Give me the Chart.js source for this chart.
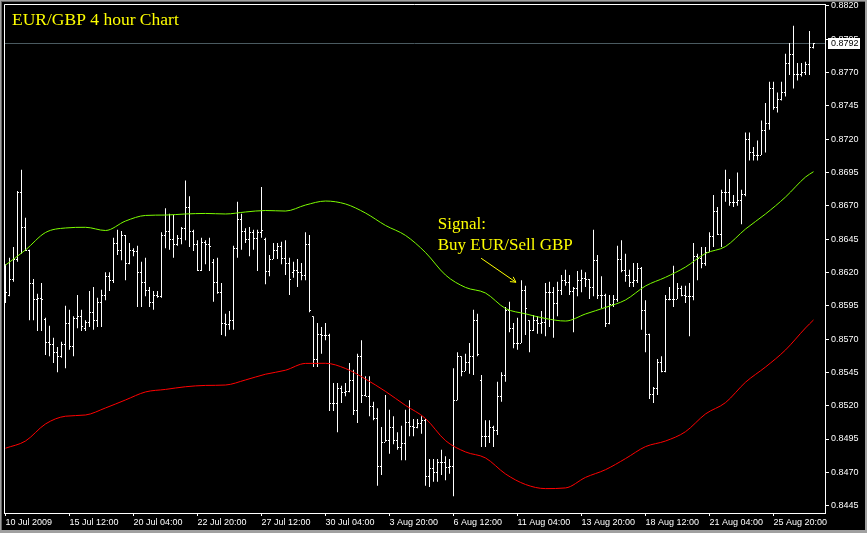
<!DOCTYPE html>
<html>
<head>
<meta charset="utf-8">
<title>EUR/GBP 4 hour Chart</title>
<script src="https://cdn.jsdelivr.net/npm/chart.js@4.4.1/dist/chart.umd.min.js"></script>
<style>
    html, body { margin: 0; padding: 0; background: #000; }
    #graph_eurgbp { display: block; }
</style>
</head>
<body>
<canvas id="graph_eurgbp" width="867" height="533"></canvas>
<script>
// 4h bars, 10 Jul 2009 -> 26 Aug 2009 (one value per bar)
const opens = [
    .8624,.8603,.8615,.8630,.8680,.8654,.8637,.8612,.8600,.8601,
    .8585,.8568,.8566,.8560,.8557,.8566,.8582,.8565,.8586,.8587,
    .8578,.8583,.8590,.8584,.8598,.8603,.8617,.8614,.8642,.8637,
    .8648,.8627,.8637,.8636,.8620,.8613,.8607,.8598,.8603,.8602,
    .8648,.8651,.8645,.8641,.8646,.8653,.8669,.8651,.8641,.8622,
    .8643,.8641,.8628,.8613,.8605,.8582,.8581,.8584,.8638,.8660,
    .8651,.8645,.8650,.8646,.8650,.8645,.8621,.8630,.8637,.8640,
    .8631,.8627,.8620,.8622,.8620,.8618,.8641,.8587,.8555,.8574,
    .8573,.8573,.8522,.8522,.8533,.8530,.8531,.8539,.8517,.8557,
    .8528,.8527,.8520,.8511,.8475,.8493,.8494,.8504,.8494,.8489,
    .8492,.8508,.8505,.8504,.8507,.8509,.8467,.8473,.8470,.8478,
    .8478,.8474,.8475,.8524,.8557,.8546,.8553,.8557,.8584,.8539,
    .8497,.8497,.8504,.8502,.8527,.8543,.8592,.8578,.8567,.8567,
    .8607,.8584,.8577,.8584,.8582,.8583,.8605,.8605,.8597,.8607,
    .8614,.8613,.8606,.8608,.8614,.8616,.8615,.8609,.8629,.8603,
    .8603,.8582,.8596,.8600,.8630,.8622,.8618,.8613,.8614,.8623,
    .8592,.8574,.8529,.8533,.8553,.8546,.8600,.8600,.8600,.8608,
    .8603,.8602,.8602,.8632,.8631,.8627,.8635,.8647,.8666,.8649,
    .8680,.8680,.8673,.8673,.8674,.8679,.8720,.8710,.8708,.8708,
    .8727,.8732,.8758,.8744,.8750,.8755,.8777,.8784,.8769,.8769,
    .8770,.8776,.8789
];
const highs = [
    .8626,.8631,.8639,.8681,.8697,.8661,.8637,.8615,.8604,.8612,
    .8586,.8580,.8571,.8564,.8568,.8595,.8592,.8587,.8603,.8592,
    .8584,.8606,.8609,.8601,.8607,.8620,.8620,.8646,.8652,.8651,
    .8648,.8642,.8638,.8640,.8628,.8631,.8609,.8606,.8606,.8650,
    .8668,.8664,.8663,.8648,.8654,.8689,.8677,.8652,.8644,.8646,
    .8644,.8646,.8630,.8631,.8612,.8589,.8591,.8640,.8673,.8664,
    .8653,.8654,.8652,.8652,.8684,.8646,.8633,.8642,.8642,.8643,
    .8644,.8631,.8628,.8630,.8627,.8650,.8648,.8587,.8582,.8579,
    .8582,.8574,.8537,.8537,.8535,.8537,.8552,.8547,.8559,.8569,
    .8542,.8542,.8523,.8518,.8504,.8528,.8517,.8512,.8500,.8505,
    .8517,.8524,.8510,.8510,.8512,.8510,.8480,.8480,.8480,.8487,
    .8482,.8480,.8548,.8560,.8557,.8559,.8567,.8592,.8589,.8543,
    .8509,.8509,.8505,.8538,.8545,.8594,.8598,.8582,.8586,.8614,
    .8610,.8584,.8588,.8587,.8591,.8612,.8613,.8609,.8613,.8618,
    .8622,.8618,.8609,.8621,.8622,.8620,.8615,.8652,.8633,.8617,
    .8604,.8603,.8603,.8640,.8644,.8634,.8622,.8627,.8627,.8624,
    .8599,.8574,.8534,.8555,.8557,.8603,.8609,.8625,.8612,.8610,
    .8610,.8612,.8642,.8634,.8639,.8639,.8650,.8678,.8669,.8682,
    .8697,.8690,.8678,.8695,.8682,.8725,.8725,.8714,.8719,.8734,
    .8747,.8763,.8763,.8755,.8763,.8784,.8792,.8805,.8777,.8777,
    .8778,.8801,.8792
];
const lows = [
    .8597,.8602,.8613,.8628,.8634,.8636,.8584,.8584,.8576,.8576,
    .8558,.8557,.8552,.8545,.8556,.8548,.8562,.8557,.8578,.8576,
    .8576,.8579,.8577,.8579,.8579,.8599,.8606,.8612,.8633,.8629,
    .8614,.8626,.8632,.8594,.8594,.8602,.8594,.8592,.8601,.8601,
    .8638,.8637,.8631,.8640,.8641,.8644,.8639,.8636,.8621,.8621,
    .8626,.8621,.8598,.8604,.8573,.8572,.8577,.8577,.8631,.8637,
    .8642,.8632,.8637,.8621,.8646,.8611,.8617,.8630,.8630,.8626,
    .8618,.8603,.8616,.8609,.8614,.8614,.8590,.8549,.8549,.8559,
    .8569,.8516,.8516,.8500,.8522,.8527,.8530,.8513,.8507,.8522,
    .8527,.8512,.8509,.8460,.8468,.8493,.8484,.8491,.8487,.8479,
    .8479,.8497,.8497,.8503,.8499,.8460,.8459,.8463,.8463,.8468,
    .8464,.8469,.8452,.8524,.8542,.8546,.8544,.8543,.8557,.8489,
    .8489,.8492,.8489,.8498,.8523,.8538,.8575,.8563,.8562,.8567,
    .8573,.8560,.8576,.8574,.8574,.8572,.8579,.8571,.8587,.8603,
    .8610,.8603,.8575,.8602,.8605,.8609,.8600,.8602,.8600,.8593,
    .8579,.8581,.8594,.8598,.8620,.8613,.8609,.8609,.8612,.8577,
    .8560,.8525,.8522,.8528,.8545,.8545,.8599,.8594,.8600,.8602,
    .8597,.8572,.8599,.8614,.8623,.8625,.8635,.8639,.8648,.8639,
    .8673,.8670,.8669,.8670,.8656,.8677,.8704,.8704,.8704,.8708,
    .8710,.8727,.8742,.8740,.8749,.8752,.8768,.8758,.8764,.8767,
    .8768,.8768,.8788
];
const closes = [
    .8605,.8615,.8630,.8680,.8654,.8637,.8612,.8600,.8601,.8600,
    .8568,.8566,.8560,.8557,.8566,.8582,.8565,.8586,.8587,.8580,
    .8583,.8590,.8584,.8598,.8603,.8617,.8614,.8642,.8637,.8648,
    .8627,.8637,.8636,.8620,.8613,.8607,.8598,.8603,.8602,.8648,
    .8651,.8645,.8641,.8646,.8653,.8669,.8651,.8641,.8622,.8643,
    .8641,.8640,.8613,.8605,.8582,.8581,.8584,.8638,.8660,.8651,
    .8645,.8650,.8646,.8650,.8652,.8621,.8630,.8637,.8640,.8631,
    .8627,.8615,.8622,.8620,.8618,.8641,.8592,.8555,.8574,.8573,
    .8573,.8522,.8522,.8533,.8530,.8531,.8539,.8517,.8557,.8528,
    .8527,.8520,.8511,.8475,.8493,.8494,.8504,.8494,.8489,.8492,
    .8508,.8505,.8504,.8507,.8509,.8467,.8473,.8470,.8478,.8478,
    .8474,.8475,.8524,.8557,.8546,.8553,.8557,.8584,.8559,.8497,
    .8497,.8504,.8502,.8527,.8543,.8592,.8578,.8567,.8567,.8607,
    .8593,.8577,.8584,.8582,.8583,.8605,.8605,.8597,.8607,.8614,
    .8613,.8606,.8608,.8614,.8616,.8615,.8609,.8629,.8603,.8603,
    .8582,.8596,.8600,.8630,.8622,.8618,.8613,.8614,.8623,.8592,
    .8574,.8529,.8533,.8553,.8546,.8600,.8600,.8600,.8608,.8603,
    .8602,.8602,.8632,.8631,.8627,.8635,.8647,.8666,.8649,.8680,
    .8680,.8673,.8673,.8674,.8679,.8720,.8710,.8708,.8708,.8727,
    .8732,.8758,.8744,.8750,.8755,.8777,.8784,.8769,.8769,.8770,
    .8776,.8789,.8792
];

// moving averages, read every 5 bars
const maIdx = [0,5,10,15,20,25,30,35,40,45,50,55,60,65,70,75,80,85,90,95,
    100,105,110,115,120,125,130,135,140,145,150,155,160,165,170,175,180,185,190,195,200,202];
const maGreen = [.86255,.86368,.86499,.86533,.86538,.86514,.86585,.86627,.86630,.86638,
    .86642,.86638,.86653,.86664,.86660,.86705,.86735,.86713,.86645,.86552,
    .86477,.86349,.86180,.86087,.86045,.85929,.85889,.85854,.85835,.85888,
    .85937,.85993,.86098,.86163,.86240,.86342,.86394,.86525,.86638,.86765,.86915,.86955];
const maRed = [.84881,.84935,.85063,.85121,.85130,.85183,.85243,.85303,.85322,.85342,
    .85352,.85355,.85393,.85436,.85466,.85517,.85518,.85479,.85400,.85307,
    .85202,.85104,.84938,.84853,.84808,.84688,.84609,.84578,.84583,.84662,
    .84720,.84803,.84893,.84935,.85005,.85138,.85223,.85376,.85490,.85618,.85783,.85843];

// axis labels
const timeTickIdx = [0,16,32,48,64,80,96,112,128,144,160,176,192];
const timeLabels = ['10 Jul 2009','15 Jul 12:00','20 Jul 04:00','22 Jul 20:00','27 Jul 12:00',
    '30 Jul 04:00','3 Aug 20:00','6 Aug 12:00','11 Aug 04:00','13 Aug 20:00',
    '18 Aug 12:00','21 Aug 04:00','25 Aug 20:00'];
const priceTicks = [.8445,.8470,.8495,.8520,.8545,.8570,.8595,.8620,.8645,.8670,.8695,.8720,.8745,.8770,.8795,.8820];

// annotation (bar index / price)
const titleText = 'EUR/GBP 4 hour Chart';
const signalText = ['Signal:', 'Buy EUR/Sell GBP'];
const signalAt = { x: 108.05, y: .86525 };
const arrowFrom = { x: 118.9, y: .86306 };
const arrowTo = { x: 127.6, y: .86126 };

const AXIS_FONT = { family: 'Liberation Sans', size: 9 };

// no extra room for the outer labels: plot area is fixed by layout padding + afterFit
function noPad(s) {
    s.paddingTop = 0; s.paddingBottom = 0; s.paddingLeft = 0; s.paddingRight = 0;
}

const mt4Plugin = {
    id: 'mt4',
    beforeDraw(chart) {
        const c = chart.ctx;
        c.save();
        c.fillStyle = '#000';
        c.fillRect(0, 0, chart.width, chart.height);
        // window frame
        c.fillStyle = '#a0a0a0';
        c.fillRect(0, 0, chart.width, 1);
        c.fillRect(0, 0, 1, chart.height);
        c.fillStyle = '#646464';
        c.fillRect(1, 1, chart.width - 2, 1);
        c.fillRect(1, 1, 1, chart.height - 2);
        c.fillStyle = '#a0a0a0';
        c.fillRect(0, chart.height - 3, chart.width, 3);
        c.fillRect(chart.width - 2, 0, 2, chart.height);
        c.restore();
    },
    beforeDatasetsDraw(chart) {
        // bid line
        const c = chart.ctx, a = chart.chartArea;
        const py = Math.round(chart.scales.y.getPixelForValue(closes[closes.length - 1])) + 0.5;
        c.save();
        c.strokeStyle = '#4a5a60';
        c.lineWidth = 1;
        c.beginPath();
        c.moveTo(a.left, py);
        c.lineTo(a.right, py);
        c.stroke();
        c.restore();
    },
    afterDatasetDraw(chart, args) {
        if (args.index !== 2) return;
        // open / close ticks of the bars
        const c = chart.ctx, xs = chart.scales.x, ys = chart.scales.y;
        c.save();
        c.fillStyle = '#ffffff';
        for (let i = 0; i < opens.length; i++) {
            const px = Math.floor(xs.getPixelForValue(i));
            c.fillRect(px - 1, Math.round(ys.getPixelForValue(opens[i])), 1, 1);
            c.fillRect(px + 1, Math.round(ys.getPixelForValue(closes[i])), 1, 1);
        }
        c.restore();
    },
    afterDraw(chart) {
        const c = chart.ctx, a = chart.chartArea, xs = chart.scales.x, ys = chart.scales.y;
        c.save();
        // top / left frame of the plot
        c.strokeStyle = '#ffffff';
        c.lineWidth = 1;
        c.beginPath();
        c.moveTo(a.left + 0.5, a.bottom);
        c.lineTo(a.left + 0.5, a.top + 0.5);
        c.lineTo(a.right, a.top + 0.5);
        c.stroke();

        // last price box
        const last = closes[closes.length - 1];
        const py = Math.round(ys.getPixelForValue(last));
        c.fillStyle = '#ffffff';
        c.fillRect(a.right + 3, py - 5, 32, 11);
        c.fillStyle = '#000000';
        c.font = '9px "Liberation Sans"';
        c.textBaseline = 'middle';
        c.fillText(last.toFixed(4), a.right + 6, py + 0.5);

        // title + signal text
        c.fillStyle = '#ffff00';
        c.font = '17.5px "Liberation Serif"';
        c.textBaseline = 'alphabetic';
        c.fillText(titleText, 12, 25);
        c.font = '17px "Liberation Serif"';
        const sx = xs.getPixelForValue(signalAt.x), sy = ys.getPixelForValue(signalAt.y);
        signalText.forEach((t, k) => c.fillText(t, sx, sy + k * 21));

        // arrow
        const x1 = xs.getPixelForValue(arrowFrom.x), y1 = ys.getPixelForValue(arrowFrom.y);
        const x2 = xs.getPixelForValue(arrowTo.x), y2 = ys.getPixelForValue(arrowTo.y);
        c.strokeStyle = '#ffff00';
        c.beginPath();
        c.moveTo(x1, y1);
        c.lineTo(x2, y2);
        c.stroke();
        const ang = Math.atan2(y2 - y1, x2 - x1);
        c.beginPath();
        c.moveTo(x2 - 6 * Math.cos(ang - 0.5), y2 - 6 * Math.sin(ang - 0.5));
        c.lineTo(x2, y2);
        c.lineTo(x2 - 6 * Math.cos(ang + 0.5), y2 - 6 * Math.sin(ang + 0.5));
        c.stroke();
        c.restore();
    }
};

const ctx = document.getElementById('graph_eurgbp');
const chart = new Chart(ctx, {
    type: 'bar',
    data: {
        datasets: [
        { // MA green
            type: 'line',
            data: maIdx.map((x, k) => ({ x: x, y: maGreen[k] })),
            borderColor: '#7cfc00',
            borderWidth: 1,
            pointRadius: 0,
            cubicInterpolationMode: 'monotone',
            order: 1
        },
        { // MA red
            type: 'line',
            data: maIdx.map((x, k) => ({ x: x, y: maRed[k] })),
            borderColor: '#ff0000',
            borderWidth: 1,
            pointRadius: 0,
            cubicInterpolationMode: 'monotone',
            order: 2
        },
        { // high-low of each bar
            type: 'bar',
            data: highs.map((h, i) => ({ x: i, y: [lows[i], h] })),
            backgroundColor: '#ffffff',
            borderWidth: 0,
            barThickness: 1,
            inflateAmount: 0,
            order: 3
        }
        ]
    },
    options: {
        responsive: false,
        animation: false,
        events: [],
        layout: { padding: { left: 4, top: 4, right: 0, bottom: 0 } },
        plugins: { legend: { display: false }, tooltip: { enabled: false } },
        scales: {
            x: {
                type: 'linear',
                min: -0.375,
                max: 204.875,
                offset: false,
                grid: { drawOnChartArea: false, drawTicks: true, tickLength: 3, color: '#ffffff', offset: false },
                border: { display: true, color: '#ffffff', width: 1 },
                ticks: {
                    color: '#ffffff', font: AXIS_FONT, align: 'start', maxRotation: 0, autoSkip: false, padding: 1,
                    callback: (v) => timeLabels[timeTickIdx.indexOf(v)]
                },
                afterBuildTicks: (s) => { s.ticks = timeTickIdx.map(v => ({ value: v })); },
                afterFit: (s) => { s.height = 20; noPad(s); }
            },
            y: {
                position: 'right',
                min: 0.84395,
                max: 0.88213,
                beginAtZero: false,
                grid: { drawOnChartArea: false, drawTicks: true, tickLength: 4, color: '#ffffff' },
                border: { display: true, color: '#ffffff', width: 1 },
                ticks: {
                    color: '#ffffff', font: AXIS_FONT, padding: 2,
                    callback: (v) => v.toFixed(4)
                },
                afterBuildTicks: (s) => { s.ticks = priceTicks.map(v => ({ value: v })); },
                afterFit: (s) => { s.width = 42; noPad(s); }
            }
        }
    },
    plugins: [mt4Plugin]
});
</script>
</body>
</html>
